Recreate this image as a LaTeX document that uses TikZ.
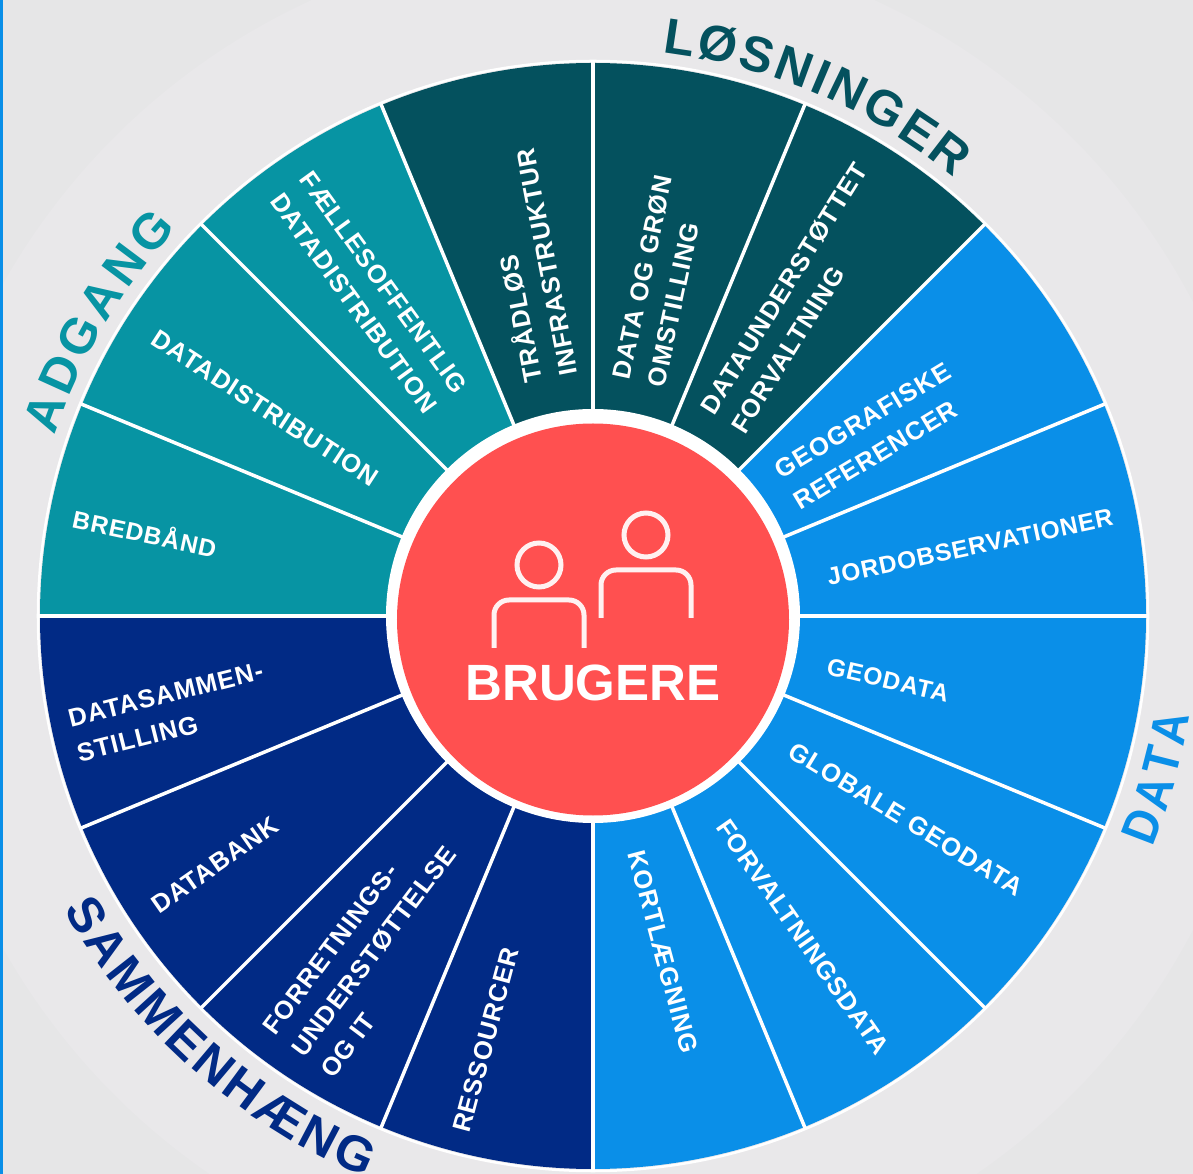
\documentclass[tikz,border=0pt]{standalone}
\usepackage{fontspec}
\usetikzlibrary{decorations.text}
\setmainfont{Liberation Sans}
\newfontfamily\segfont[LetterSpace=4]{Liberation Sans}
\newfontfamily\shortfont[LetterSpace=3.5]{Liberation Sans}
\newfontfamily\bigfont{Liberation Sans}
\newfontfamily\narrowfont[FakeStretch=0.9]{Liberation Sans}
\definecolor{bgouter}{HTML}{E6E6E7}
\definecolor{bginner}{HTML}{E9E8EA}
\definecolor{datablue}{HTML}{0A8FE8}
\definecolor{solteal}{HTML}{04515E}
\definecolor{accteal}{HTML}{0794A3}
\definecolor{cohnavy}{HTML}{012A85}
\definecolor{userred}{HTML}{FF5050}
\tikzset{
   seglabel/.style={text=white,font=\segfont\fontsize{25.6}{36}\selectfont\bfseries,align=left,inner sep=0pt},
   shortlabel/.style={seglabel,font=\shortfont\fontsize{24.5}{36}\selectfont\bfseries},
   centerlabel/.style={text=white,font=\bigfont\fontsize{51}{60}\selectfont\bfseries,inner sep=0pt},
   iconline/.style={white!92!userred,line width=5pt},
   spoke/.style={white,line width=3.5pt}
}
\newcommand{\arctitle}[1]{\fontsize{50}{54}\selectfont\bfseries\color{#1}}
\begin{document}
\begin{tikzpicture}[x=1pt,y=1pt]
   \useasboundingbox (-593,-558) rectangle (600,616);
   \fill [bgouter] (-593,-558) rectangle (600,616);
   \fill [bginner] (0,0) circle (677);
   \fill [datablue] (-593,-558) rectangle (-590,616);
   \foreach \a/\c in {0/datablue,22.5/datablue,45/solteal,67.5/solteal,90/solteal,
      112.5/accteal,135/accteal,157.5/accteal,180/cohnavy,202.5/cohnavy,225/cohnavy,
      247.5/cohnavy,270/datablue,292.5/datablue,315/datablue,337.5/datablue}
      \fill [\c] (0,0) -- (\a:553) arc (\a:\a+22.5:553) -- cycle;
   \foreach \a in {0,22.5,...,337.5}
      \draw [spoke] (0,0) -- (\a:555);
   \draw [white,line width=2.5pt] (0,0) circle (555);
   \fill [white] (0,0) circle (207);
   \fill [userred] (0,-3.5) circle (196);
   \draw [iconline] (-54,51) circle (22);
   \draw [iconline] (-99,-32) -- (-99,1) arc (180:90:15) -- (-24,16) arc (90:0:15) -- (-9,-32);
   \draw [iconline] (53,81) circle (22);
   \draw [iconline] (8,-2) -- (8,31) arc (180:90:15) -- (83,46) arc (90:0:15) -- (98,-2);
   \node [centerlabel] (brugere) at (0,-67) {BRUGERE};
   \node [shortlabel,rotate=12] (jord) at (377,69) {JORDOBSERVATIONER};
   \node [seglabel,rotate=31] (geo) at (279,180) {GEOGRAFISKE\\REFERENCER};
   \node [seglabel,rotate=58] (forvaltning) at (206,318) {DATAUNDERSTØTTET\\FORVALTNING};
   \node [seglabel,rotate=78] (groen) at (67,335) {DATA OG GRØN\\OMSTILLING};
   \node [seglabel,rotate=101] (infra) at (-66,350) {TRÅDLØS\\INFRASTRUKTUR};
   \node [seglabel,rotate=-54] (faelles) at (-224,323) {FÆLLESOFFENTLIG\\DATADISTRIBUTION};
   \node [seglabel,rotate=-33] (distribution) at (-328,208) {DATADISTRIBUTION};
   \node [shortlabel,rotate=-12] (bredbaand) at (-448,84) {BREDBÅND};
   \node [seglabel,rotate=14] (sammenstilling) at (-423,-96) {DATASAMMEN-\\STILLING};
   \node [seglabel,rotate=35] (databank) at (-378,-249) {DATABANK};
   \node [seglabel,rotate=53] (forretning) at (-219,-335) {FORRETNINGS-\\UNDERSTØTTELSE\\OG IT};
   \node [seglabel,rotate=75] (ressourcer) at (-107,-424) {RESSOURCER};
   \node [seglabel,rotate=-75] (kort) at (70,-336) {KORTLÆGNING};
   \node [seglabel,rotate=-55] (forvaltningsdata) at (210,-321) {FORVALTNINGSDATA};
   \node [seglabel,rotate=-31.5] (globale) at (313,-203) {GLOBALE GEODATA};
   \node [shortlabel,rotate=-13] (geodata) at (295,-64) {GEODATA};
   \path [decorate,decoration={text along path,text align=fit to path,
      text={|\arctitle{solteal}|LØSNINGER}}] (83:568) arc (83:50.5:568);
   \path [decorate,decoration={text along path,text align=fit to path,
      text={|\arctitle{accteal}|ADGANG}}] (161.5:568) arc (161.5:137:568);
   \path [decorate,decoration={text along path,text align=fit to path,
      text={|\narrowfont\arctitle{datablue}|DATA}}] (-22.5:605) arc (-22.5:-9.5:605);
   \path [decorate,decoration={text along path,text align=fit to path,
      text={|\arctitle{cohnavy}|SAMMENHÆNG}}] (209:605) arc (209:248:605);
\end{tikzpicture}
\end{document}
